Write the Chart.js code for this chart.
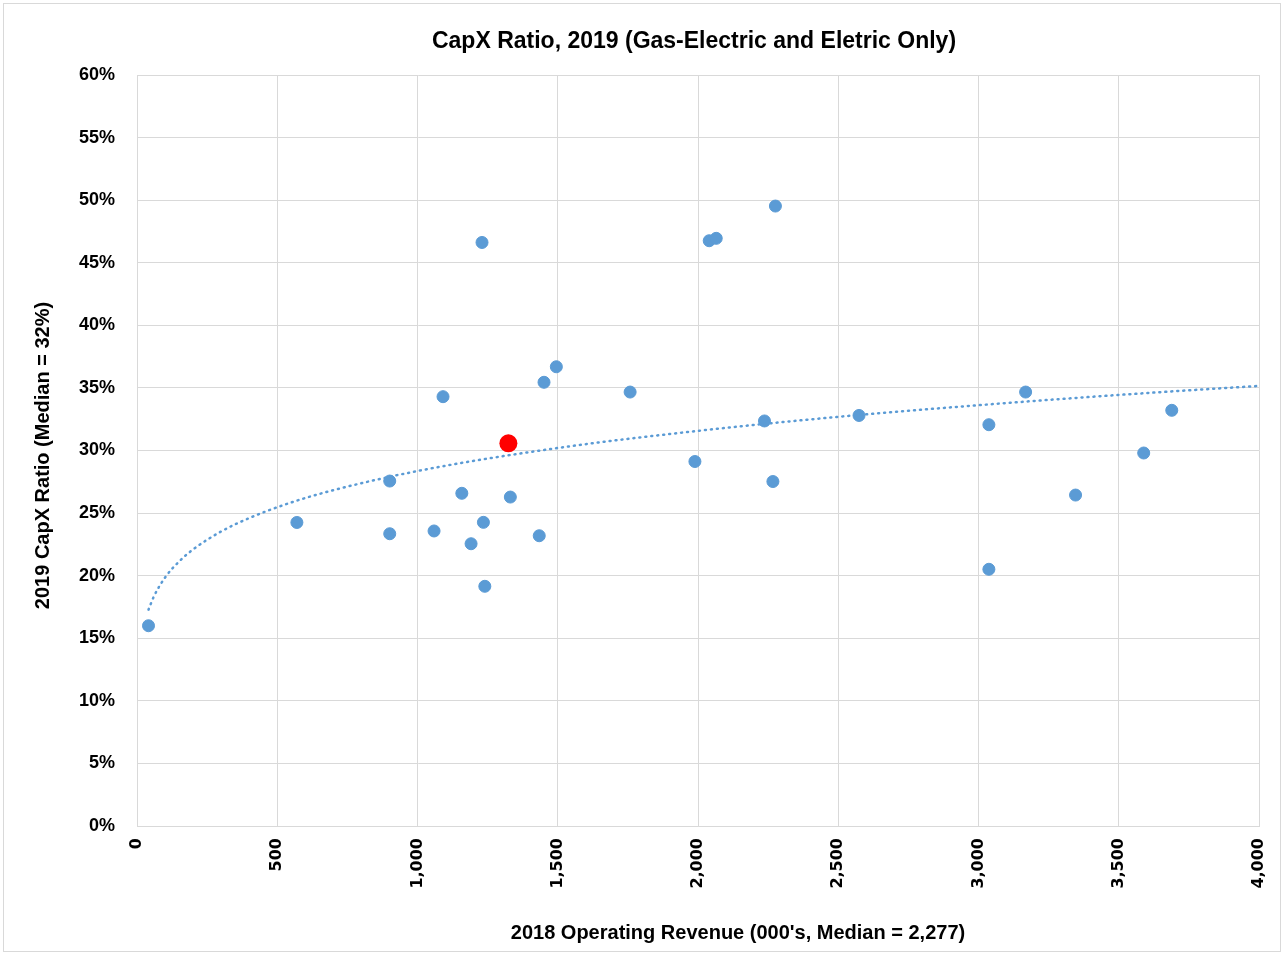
<!DOCTYPE html>
<html>
<head>
<meta charset="utf-8">
<script src="https://cdn.jsdelivr.net/npm/chart.js@4.4.1/dist/chart.umd.min.js"></script>
<style>
  html, body { margin: 0; padding: 0; background: #fff; }
  #wrap { width: 1285px; height: 957px; }
</style>
</head>
<body>
<div id="wrap"><canvas id="chart" width="1285" height="957"></canvas></div>
<script>
// operating revenue 2018 (000's) and capx ratio 2019 (%)
const revenue = [41, 570, 901, 901, 1059, 1091, 1158, 1191, 1230, 1235, 1240, 1331, 1434, 1451, 1495,
  1758, 1989, 2040, 2065, 2237, 2267, 2276, 2574, 3037, 3037, 3168, 3346, 3589, 3689];
const capxRatio = [16.0, 24.25, 27.56, 23.35, 23.57, 34.3, 26.58, 22.55, 46.62, 24.26, 19.15, 26.28, 23.19, 35.45, 36.69,
  34.67, 29.12, 46.76, 46.95, 32.36, 27.52, 49.53, 32.8, 32.06, 20.51, 34.67, 26.44, 29.8, 33.21];

// highlighted utility
const highlightRevenue = [1324];
const highlightRatio = [30.57];

// dotted trend line
const trendX = [41, 60, 100, 150, 200, 300, 400, 550, 700, 1000, 1500, 2000, 2500, 3000, 3500, 4000, 4075];
const trendY = [17.28, 18.33, 19.85, 21.13, 22.10, 23.53, 24.60, 25.85, 26.83, 28.36, 30.20, 31.57, 32.69, 33.62, 34.44, 35.16, 35.26];

const xTicksMax = 4000;
const yTicksMax = 60;

const chartTitle = "CapX Ratio, 2019 (Gas-Electric and Eletric Only)";
const xTitle = "2018 Operating Revenue (000's, Median = 2,277)";
const yTitle = "2019 CapX Ratio (Median = 32%)";

const toPts = (xs, ys) => xs.map((x, i) => ({ x: x, y: ys[i] }));

const blue = "#5b9bd5";
const gridCol = "#d9d9d9";
const labelFont = "'Liberation Sans', Arial, sans-serif";

// white background, outer frame and the three titles
const frame = {
  id: "frame",
  beforeDraw(c) {
    const ctx = c.ctx;
    ctx.save();
    ctx.fillStyle = "#fff";
    ctx.fillRect(0, 0, c.width, c.height);
    ctx.strokeStyle = gridCol;
    ctx.lineWidth = 1;
    ctx.strokeRect(3.5, 3.5, 1277, 948);
    ctx.restore();
  },
  afterDraw(c) {
    const ctx = c.ctx;
    const a = c.chartArea;
    const mid = (a.left + a.right) / 2;
    ctx.save();
    ctx.fillStyle = "#000";
    ctx.textAlign = "center";
    ctx.textBaseline = "middle";
    ctx.font = "bold 23px " + labelFont;
    ctx.fillText(chartTitle, mid - 4, 42);
    ctx.font = "bold 20px " + labelFont;
    ctx.fillText(xTitle, mid + 40, 933);
    ctx.translate(43, (a.top + a.bottom) / 2 + 5);
    ctx.rotate(-Math.PI / 2);
    ctx.font = "bold 20px " + labelFont;
    ctx.fillText(yTitle, 0, 0);
    ctx.restore();
  }
};

new Chart(document.getElementById("chart"), {
  type: "scatter",
  data: {
    datasets: [
      {
        label: "Highlight",
        data: toPts(highlightRevenue, highlightRatio),
        backgroundColor: "#ff0000",
        borderColor: "#ff0000",
        pointRadius: 9,
        borderWidth: 0
      },
      {
        label: "Trend",
        type: "line",
        data: toPts(trendX, trendY),
        borderColor: blue,
        borderWidth: 2.5,
        borderDash: [1, 5],
        borderCapStyle: "round",
        cubicInterpolationMode: "monotone",
        pointRadius: 0,
        fill: false,
        clip: { left: 5, top: 5, right: 22, bottom: 5 }
      },
      {
        label: "Utilities",
        data: toPts(revenue, capxRatio),
        backgroundColor: blue,
        borderColor: blue,
        pointRadius: 6,
        borderWidth: 1
      }
    ]
  },
  options: {
    responsive: false,
    animation: false,
    layout: { padding: { left: 0, right: 0, top: 75, bottom: 0 } },
    plugins: {
      legend: { display: false },
      tooltip: { enabled: false },
      title: { display: false }
    },
    scales: {
      x: {
        type: "linear",
        min: 0,
        max: xTicksMax,
        afterFit(s) {
          s.height = 131;
          s.paddingLeft = 0;
          s.paddingRight = 26;
        },
        grid: { color: gridCol, drawTicks: false },
        border: { color: gridCol },
        ticks: {
          stepSize: 500,
          autoSkip: false,
          minRotation: 90,
          maxRotation: 90,
          padding: 12,
          color: "#000",
          font: { family: "'DejaVu Sans', sans-serif", size: 16, weight: "bold" },
          callback: v => v.toLocaleString("en-US")
        }
      },
      y: {
        min: 0,
        max: yTicksMax,
        afterFit(s) { s.width = 137; },
        grid: { color: gridCol, drawTicks: false },
        border: { color: gridCol },
        ticks: {
          stepSize: 5,
          padding: 22,
          color: "#000",
          font: { family: labelFont, size: 18, weight: "bold" },
          callback: v => v + "%"
        }
      }
    }
  },
  plugins: [frame]
});
</script>
</body>
</html>
